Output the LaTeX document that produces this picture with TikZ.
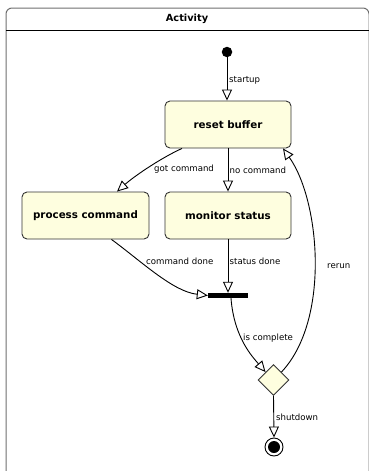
\documentclass[tikz,border=0pt]{standalone}
\usepackage{fontspec}
\setmainfont{DejaVu Sans}
\usetikzlibrary{arrows.meta,shapes.geometric}
\definecolor{statefill}{HTML}{FEFEDF}
\definecolor{frameline}{HTML}{6E6E6E}
\begin{document}
\begin{tikzpicture}[x=1pt,y=-1pt,
  statebox/.style={draw=black!80,fill=statefill,rounded corners=5pt,line width=0.9pt,
    minimum width=126pt,minimum height=47pt,inner sep=0pt,
    font=\fontsize{10.3}{12}\selectfont\bfseries},
  trans/.style={draw=black,line width=0.9pt,
    -{Triangle[open,length=11pt,width=10pt,fill=white]}},
  lbl/.style={font=\fontsize{8.6}{10}\selectfont,inner sep=0pt,anchor=west}]
\useasboundingbox (0,0) rectangle (368,471);
% activity frame and its title bar
\draw[frameline,line width=1pt,rounded corners=6pt] (6,476) -- (6,8) -- (369,8) -- (369,476);
\draw[black,line width=0.9pt] (6,30.5) -- (369,30.5);
\node[font=\fontsize{9.8}{12}\selectfont\bfseries] (title) at (187,19) {Activity};
% states
\node[circle,fill=black,minimum size=10.5pt,inner sep=0pt] (init) at (227,52) {};
\node[statebox] (rb) at (228,124.5) {reset buffer};
\node[statebox,minimum width=127pt] (pc) at (85.5,215.5) {process command};
\node[statebox] (ms) at (228,215.5) {monitor status};
\node[fill=black,minimum width=40pt,minimum height=5pt,inner sep=0pt] (bar) at (228,295.5) {};
\node[diamond,draw=black!80,fill=statefill,line width=0.9pt,minimum width=31pt,minimum height=31pt,inner sep=0pt] (dec) at (273.5,380) {};
\node[circle,draw=black,line width=0.9pt,fill=white,minimum size=18pt,inner sep=0pt] (fin) at (274,447) {};
\node[circle,fill=black,minimum size=12pt,inner sep=0pt] (finin) at (fin.center) {};
% transitions
\draw[trans] (init) -- (rb.north -| init);
\node[lbl] (lst) at (229,80) {startup};
\draw[trans] ([xshift=-46pt]rb.south) .. controls +(-20,9) and +(18,-16) .. ([xshift=31.5pt]pc.north);
\node[lbl] (lgot) at (154,169) {got command};
\draw[trans] (rb.south) -- (ms.north);
\node[lbl] (lno) at (229.5,170) {no command};
\draw[trans] ([xshift=26pt]pc.south) .. controls +(30,22) and +(-35,-4) .. (bar.west);
\node[lbl] (lcd) at (146,261) {command done};
\draw[trans] (ms.south) -- (bar.north);
\node[lbl] (lsd) at (229.5,261) {status done};
\draw[trans] ([xshift=3pt]bar.south) .. controls +(3,40) and +(-12,-14) .. (dec.north west);
\node[lbl] (lic) at (243,338) {is complete};
\draw[trans] (dec.north east) .. controls +(49,-52) and +(37,52) .. ([xshift=55pt]rb.south);
\node[lbl] (lrr) at (327,266) {rerun};
\draw[trans] (dec.south) -- (fin.north);
\node[lbl] (lsh) at (276,417) {shutdown};
\end{tikzpicture}
\end{document}
